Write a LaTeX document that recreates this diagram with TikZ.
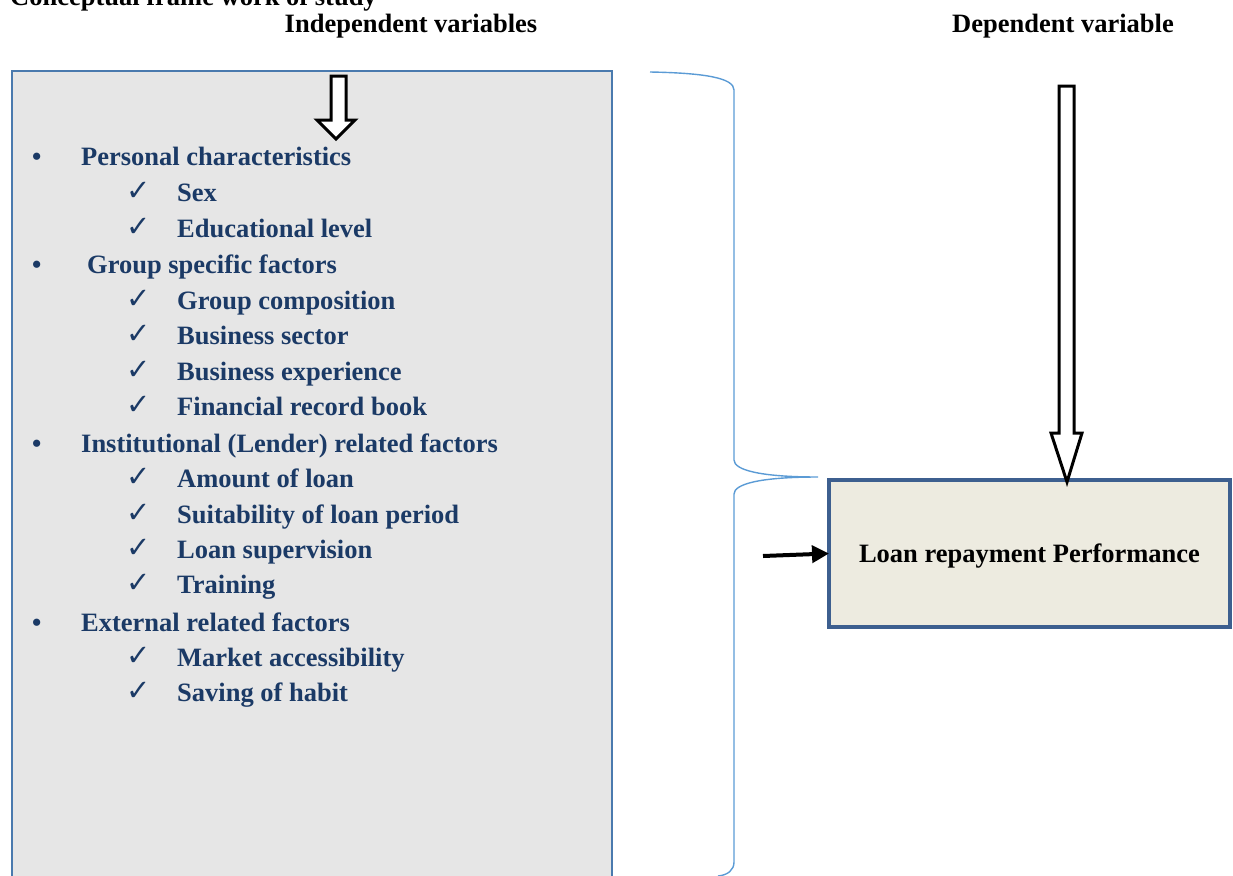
\documentclass[tikz,border=0pt]{standalone}
\usepackage{fontspec}
\setmainfont{Liberation Serif}
\newfontfamily\checkfont{DejaVu Sans}
\usetikzlibrary{arrows.meta,calc}
\definecolor{navy}{HTML}{1B3A66}
\definecolor{lbfill}{HTML}{E6E6E6}
\definecolor{lbborder}{HTML}{4A7AAE}
\definecolor{bracecol}{HTML}{5B9BD5}
\definecolor{rbfill}{HTML}{EDEBE0}
\definecolor{rbborder}{HTML}{3D5F8F}
\tikzset{
  big/.style={font=\fontsize{26.5}{30}\selectfont\bfseries},
  heading/.style={big, inner sep=0pt, anchor=base},
  item/.style={big, text=navy, inner sep=0pt, anchor=base west},
  bul/.style={big, text=navy, inner sep=0pt, anchor=base west},
  chk/.style={font=\checkfont\fontsize{29}{30}\selectfont, text=navy, inner sep=0pt, anchor=base west},
  hollow/.style={draw=black, line width=3pt, fill=white, line join=miter},
}
\begin{document}
\begin{tikzpicture}[x=1pt,y=-1pt]
\useasboundingbox (0,0) rectangle (1233,875);
\clip (0,0) rectangle (1233,875);

% headings
\node[heading, anchor=base west] (title) at (10,6) {Conceptual frame work of study};
\node[heading] (indep) at (411,33) {Independent variables};
\node[heading] (dep) at (1063,33) {Dependent variable};

% left box
\node[draw=lbborder, line width=2pt, fill=lbfill, outer sep=0pt, inner sep=0pt,
      minimum width=600, minimum height=840, anchor=north west] (lb) at (12,71) {};

% list
\node[bul] (b1) at (32,165) {\textbullet};
\node[item] (t1) at (81,165) {Personal characteristics};
\node[chk] (c2) at (126,200) {✓};
\node[item] (t2) at (177,201) {Sex};
\node[chk] (c3) at (126,236) {✓};
\node[item] (t3) at (177,237) {Educational level};
\node[bul] (b4) at (32,273) {\textbullet};
\node[item] (t4) at (87,273) {Group specific factors};
\node[chk] (c5) at (126,308) {✓};
\node[item] (t5) at (177,309) {Group composition};
\node[chk] (c6) at (126,343) {✓};
\node[item] (t6) at (177,344) {Business sector};
\node[chk] (c7) at (126,379) {✓};
\node[item] (t7) at (177,380) {Business experience};
\node[chk] (c8) at (126,414) {✓};
\node[item] (t8) at (177,415) {Financial record book};
\node[bul] (b9) at (32,452) {\textbullet};
\node[item] (t9) at (81,452) {Institutional (Lender) related factors};
\node[chk] (c10) at (126,486) {✓};
\node[item] (t10) at (177,487) {Amount of loan};
\node[chk] (c11) at (126,522) {✓};
\node[item] (t11) at (177,523) {Suitability of loan period};
\node[chk] (c12) at (126,557) {✓};
\node[item] (t12) at (177,558) {Loan supervision};
\node[chk] (c13) at (126,592) {✓};
\node[item] (t13) at (177,593) {Training};
\node[bul] (b14) at (32,631) {\textbullet};
\node[item] (t14) at (81,631) {External related factors};
\node[chk] (c15) at (126,665) {✓};
\node[item] (t15) at (177,666) {Market accessibility};
\node[chk] (c16) at (126,700) {✓};
\node[item] (t16) at (177,701) {Saving of habit};

% right box
\node[draw=rbborder, line width=4pt, fill=rbfill, outer sep=0pt, inner sep=0pt,
      minimum width=401, minimum height=147, big] (rb) at (1029.5,553.5)
      {\raisebox{-9pt}[0pt][0pt]{Loan repayment Performance}};

% brace
\coordinate (btop) at (650,72);
\coordinate (btip) at (818,477);
\coordinate (bbot) at (718,876);
\draw[bracecol, line width=1.4pt]
  (btop) .. controls (705,73) and (734,78) .. (734,90)
  -- (734,460) .. controls (734,470) and (760,477) .. (btip)
  .. controls (760,477) and (734,484) .. (734,494)
  -- (734,862) .. controls (734,870) and (728,875) .. (bbot);

% small hollow arrow in left box
\coordinate (sat) at (338.5,76);
\coordinate (sah) at (336,139);
\draw[hollow] ($(sat)+(-7.5,0)$) -- ($(sat)+(7.5,0)$) -- (346,120) -- (355,120)
  -- (sah) -- (317,120) -- (331,120) -- cycle;

% tall hollow arrow
\coordinate (tat) at (1066.5,86);
\coordinate (tah) at (rb.north -| 1067,0);
\draw[hollow] ($(tat)+(-7.5,0)$) -- ($(tat)+(7.5,0)$) -- (1074,433) -- (1082,433)
  -- ($(tah)+(0,2)$) -- (1051,433) -- (1059,433) -- cycle;

% small black arrow
\coordinate (sa) at (763,556);
\draw[line width=4pt, -{Triangle[length=17pt,width=17pt]}] (sa) -- (rb.west);
\end{tikzpicture}
\end{document}
